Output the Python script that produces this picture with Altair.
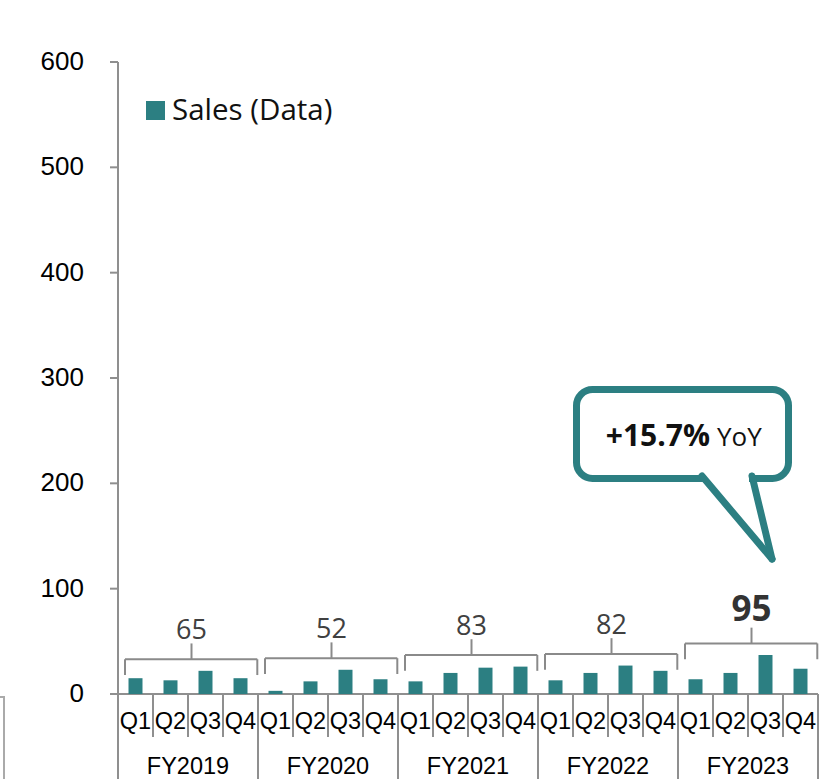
import altair as alt
import pandas as pd

# ---------------- data ----------------
years = ["FY2019", "FY2020", "FY2021", "FY2022", "FY2023"]
quarters = ["Q1", "Q2", "Q3", "Q4"]
sales_fy2019 = [15, 13, 22, 15]
sales_fy2020 = [3, 12, 23, 14]
sales_fy2021 = [12, 20, 25, 26]
sales_fy2022 = [13, 20, 27, 22]
sales_fy2023 = [14, 20, 37, 24]
annual_totals = [65, 52, 83, 82, 95]
highlight_year = "FY2023"
series_name = "Sales (Data)"
yoy_change = "+15.7%"
yoy_suffix = "YoY"
y_ticks = [0, 100, 200, 300, 400, 500, 600]

# ---------------- styles ----------------
TEAL = "#2C7F82"
AXIS_GREY = "#8f8f8f"
BRACKET_GREY = "#8a8a8a"
LABEL_GREY = "#404040"
W, H = 700, 632
SANS = "Open Sans"
ARIAL = "Liberation Sans"

all_sales = [sales_fy2019, sales_fy2020, sales_fy2021, sales_fy2022, sales_fy2023]

rows = []
for i, (yr, vals) in enumerate(zip(years, all_sales)):
    for j, (q, v) in enumerate(zip(quarters, vals)):
        idx = 4 * i + j
        rows.append({"year": yr, "quarter": q, "sales": v, "xc": idx + 0.5,
                     "series": series_name})
bars_df = pd.DataFrame(rows)

br = []
for i, (yr, vals, tot) in enumerate(zip(years, all_sales, annual_totals)):
    lvl = max(vals) + 11
    br.append({"year": yr, "x0": 4 * i + 0.2, "x1": 4 * i + 3.98, "xc": 4 * i + 2.1,
               "yc": 4 * i + 2.0, "lvl": lvl, "lo": lvl - 15, "hi": lvl + 15,
               "total": str(tot), "hl": 1 if yr == highlight_year else 0})
br_df = pd.DataFrame(br)

bounds = pd.DataFrame({"b": list(range(21))})
bounds["kind"] = ["year" if b % 4 == 0 else "quarter" for b in bounds["b"]]

ticks_df = pd.DataFrame({"v": y_ticks, "lab": [str(t) for t in y_ticks]})

xs = alt.Scale(domain=[0, 20], nice=False, zero=False, padding=0)
ys = alt.Scale(domain=[0, 600], nice=False, padding=0)


def X(f):
    return alt.X(f, scale=xs, axis=None)


def Y(f):
    return alt.Y(f, scale=ys, axis=None)


base_bars = alt.Chart(bars_df)

bars = base_bars.mark_bar(size=14, color=TEAL).encode(
    x=X("xc:Q"), y=Y("sales:Q"),
)

# y axis drawn from the tick list through the y scale
tk = alt.Chart(ticks_df)
y_domain = alt.Chart(pd.DataFrame({"a": [0], "b": [600]})).mark_rule(
    color=AXIS_GREY, strokeWidth=2).encode(x=alt.value(0), y=Y("a:Q"), y2="b:Q")
y_tick_marks = tk.mark_rule(color=AXIS_GREY, strokeWidth=2).encode(
    x=alt.value(-8), x2=alt.value(0), y=Y("v:Q"))
y_tick_labels = tk.mark_text(font=ARIAL, fontSize=26, color="#000000", align="right",
                             baseline="middle").encode(
    x=alt.value(-34), y=Y("v:Q"), text="lab:N")

one = pd.DataFrame({"series": [series_name]})
leg_sym = alt.Chart(one).mark_square(size=361, color=TEAL, opacity=1).encode(
    x=alt.value(37.5), y=alt.value(48.5))
leg_txt = alt.Chart(one).mark_text(font=SANS, fontSize=29.5, color="#111111", align="left",
                                   baseline="middle").encode(
    x=alt.value(54), y=alt.value(49), text="series:N")

q_labels = base_bars.mark_text(font=ARIAL, fontSize=23.5, color="#000000",
                               baseline="middle").encode(
    x=X("xc:Q"), y=alt.value(660), text="quarter:N")

fy_labels = alt.Chart(br_df).mark_text(font=ARIAL, fontSize=23.5, color="#000000",
                                       baseline="middle").encode(
    x=X("yc:Q"), y=alt.value(705), text="year:N")

xaxis_line = alt.Chart(pd.DataFrame({"a": [0], "b": [20]})).mark_rule(
    color=AXIS_GREY, strokeWidth=2).encode(
    x=X("a:Q"), x2="b:Q", y=alt.value(H))

q_sep = alt.Chart(bounds).transform_filter("datum.kind == 'quarter'").mark_rule(
    color=AXIS_GREY, strokeWidth=2).encode(
    x=X("b:Q"), y=alt.value(H), y2=alt.value(675))

y_sep = alt.Chart(bounds).transform_filter("datum.kind == 'year'").mark_rule(
    color=AXIS_GREY, strokeWidth=2).encode(
    x=X("b:Q"), y=alt.value(H), y2=alt.value(717))

edge = alt.Chart(one).mark_rule(color="#aaaaaa", strokeWidth=2).encode(
    x=alt.value(-114), y=alt.value(635), y2=alt.value(717))
edge_top = alt.Chart(one).mark_rule(color="#aaaaaa", strokeWidth=2).encode(
    x=alt.value(-118), x2=alt.value(-113), y=alt.value(635))

bb = alt.Chart(br_df)
br_h = bb.mark_rule(color=BRACKET_GREY, strokeWidth=2).encode(
    x=X("x0:Q"), x2="x1:Q", y=Y("lvl:Q"))
br_l = bb.mark_rule(color=BRACKET_GREY, strokeWidth=2).encode(
    x=X("x0:Q"), y=Y("lo:Q"), y2="lvl:Q")
br_r = bb.mark_rule(color=BRACKET_GREY, strokeWidth=2).encode(
    x=X("x1:Q"), y=Y("lo:Q"), y2="lvl:Q")
br_c = bb.mark_rule(color=BRACKET_GREY, strokeWidth=2).encode(
    x=X("xc:Q"), y=Y("lvl:Q"), y2="hi:Q")

tot_norm = bb.transform_filter("datum.hl == 0").mark_text(
    font=SANS, fontSize=27, color=LABEL_GREY, baseline="alphabetic", dy=-4).encode(
    x=X("xc:Q"), y=Y("hi:Q"), text="total:N")
tot_hl = bb.transform_filter("datum.hl == 1").mark_text(
    font=SANS, fontSize=35, fontWeight="bold", color="#333333", baseline="alphabetic",
    dy=-7).encode(
    x=X("xc:Q"), y=Y("hi:Q"), text="total:N")

note = pd.DataFrame({"chg": [yoy_change], "suf": [yoy_suffix]})
box = alt.Chart(note).mark_rect(fill="white", stroke=TEAL, strokeWidth=7,
                                cornerRadius=16).encode(
    x=alt.value(458.5), x2=alt.value(670.5), y=alt.value(327.5), y2=alt.value(416.5))
gap = alt.Chart(note).mark_rule(color="white", strokeWidth=9).encode(
    x=alt.value(587), x2=alt.value(631), y=alt.value(416.5))
tail_l = alt.Chart(note).mark_rule(color=TEAL, strokeWidth=7, strokeCap="round").encode(
    x=alt.value(584), y=alt.value(414), x2=alt.value(654), y2=alt.value(497))
tail_r = alt.Chart(note).mark_rule(color=TEAL, strokeWidth=7, strokeCap="round").encode(
    x=alt.value(634), y=alt.value(414), x2=alt.value(654), y2=alt.value(497))
yoy_a = alt.Chart(note).mark_text(font=SANS, fontSize=30, fontWeight="bold", color="#111111",
                                  align="right", baseline="middle").encode(
    x=alt.value(592), y=alt.value(375), text="chg:N")
yoy_b = alt.Chart(note).mark_text(font=SANS, fontSize=26, color="#111111",
                                  align="left", baseline="middle").encode(
    x=alt.value(599), y=alt.value(376), text="suf:N")

chart = alt.layer(
    edge, edge_top, q_sep, y_sep, xaxis_line, y_domain, y_tick_marks, y_tick_labels,
    bars, q_labels, fy_labels,
    br_h, br_l, br_r, br_c, tot_norm, tot_hl,
    box, gap, tail_l, tail_r, yoy_a, yoy_b, leg_sym, leg_txt,
).properties(
    width=W, height=H,
    autosize=alt.AutoSizeParams(type="none"),
    padding={"left": 118, "top": 62, "right": 13, "bottom": 85},
).configure_view(stroke=None)

chart.save("out.html", embed_options={"renderer": "svg", "actions": False})
